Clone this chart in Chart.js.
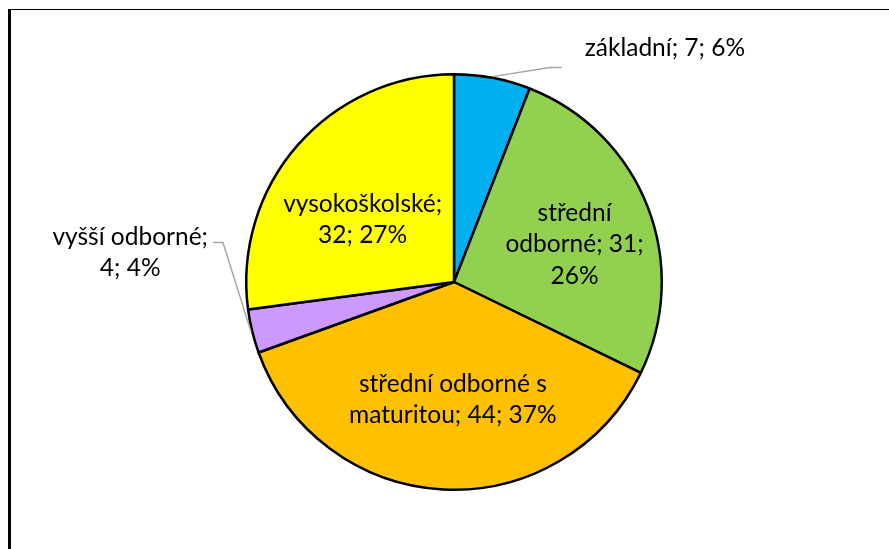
<!DOCTYPE html>
<html>
<head>
<meta charset="utf-8">
<script src="https://cdn.jsdelivr.net/npm/chart.js@4"></script>
<style>
  html, body { margin: 0; padding: 0; background: #fff; overflow: hidden; }
  #frame { position: absolute; left: 8px; top: 9px; width: 950px; height: 600px;
           border-left: 3px solid #000; border-top: 1px solid #000; }
  #wrap { position: absolute; left: 0; top: 0; width: 889px; height: 549px; }
</style>
</head>
<body>
<div id="frame"></div>
<div id="wrap"><canvas id="pie"></canvas></div>
<script>
const categories = ['základní', 'střední odborné', 'střední odborné s maturitou', 'vyšší odborné', 'vysokoškolské'];
const counts = [7, 31, 44, 4, 32];
const shares = ['6%', '26%', '37%', '4%', '27%'];
const colors = ['#00B0F0', '#92D050', '#FFC000', '#CC99FF', '#FFFF00'];

const FONT = '24.5px Lato';
const LINE_H = 31.5;

// how each label sits: inside (polar nudge from the slice middle) or outside with a leader line
const placement = [
  { out: true, elbow: [57, -9], tail: 12, side: 'right', gap: 23, dy: -20, wrap: 400 },
  { out: false, da: 4, rf: 0.608, wrap: 150 },
  { out: false, da: -2.5, rf: 0.565, wrap: 215 },
  { out: true, elbow: [-28, -89], tail: 10, side: 'left', gap: 5, dy: 10, wrap: 168 },
  { out: false, da: -6.8, rf: 0.533, wrap: 172 }
];

function wrapText(ctx, text, maxW) {
  const words = text.split(' ');
  const lines = [];
  let cur = '';
  words.forEach(w => {
    const test = cur ? cur + ' ' + w : w;
    if (cur && ctx.measureText(test).width > maxW) {
      lines.push(cur);
      cur = w;
    } else {
      cur = test;
    }
  });
  if (cur) lines.push(cur);
  return lines;
}

const pieLabels = {
  id: 'pieLabels',
  afterDatasetsDraw(chart) {
    const ctx = chart.ctx;
    const meta = chart.getDatasetMeta(0);
    ctx.save();
    ctx.font = FONT;
    ctx.fillStyle = '#000';
    ctx.textBaseline = 'middle';
    ctx.textAlign = 'center';
    meta.data.forEach((arc, i) => {
      const p = arc.getProps(['x', 'y', 'startAngle', 'endAngle', 'outerRadius'], true);
      const mid = (p.startAngle + p.endAngle) / 2;
      const R = p.outerRadius + 1.25;
      const cfg = placement[i];
      const text = categories[i] + '; ' + counts[i] + '; ' + shares[i];
      const lines = wrapText(ctx, text, cfg.wrap);
      const maxW = Math.max(...lines.map(l => ctx.measureText(l).width));
      let cx, cy;
      if (cfg.out) {
        const ax = p.x + Math.cos(mid) * R;
        const ay = p.y + Math.sin(mid) * R;
        const ex = ax + cfg.elbow[0];
        const ey = ay + cfg.elbow[1];
        const tx = cfg.side === 'right' ? ex + cfg.tail : ex - cfg.tail;
        ctx.strokeStyle = '#A6A6A6';
        ctx.lineWidth = 1.5;
        ctx.beginPath();
        ctx.moveTo(ax, ay);
        ctx.lineTo(ex, ey);
        ctx.lineTo(tx, ey);
        ctx.stroke();
        cx = cfg.side === 'right' ? tx + cfg.gap + maxW / 2 : tx - cfg.gap - maxW / 2;
        cy = ey + cfg.dy;
      } else {
        const a = mid + cfg.da * Math.PI / 180;
        cx = p.x + Math.cos(a) * p.outerRadius * cfg.rf;
        cy = p.y + Math.sin(a) * p.outerRadius * cfg.rf;
      }
      const top = cy - (lines.length - 1) * LINE_H / 2;
      lines.forEach((l, k) => ctx.fillText(l, cx, top + k * LINE_H));
    });
    ctx.restore();
  }
};

new Chart(document.getElementById('pie'), {
  type: 'pie',
  data: {
    labels: categories,
    datasets: [{
      data: counts,
      backgroundColor: colors,
      borderColor: '#000',
      borderWidth: 2.5
    }]
  },
  options: {
    responsive: true,
    maintainAspectRatio: false,
    animation: false,
    layout: { padding: { left: 245, right: 226, top: 73, bottom: 58 } },
    plugins: { legend: { display: false }, tooltip: { enabled: false } }
  },
  plugins: [pieLabels]
});
</script>
</body>
</html>
